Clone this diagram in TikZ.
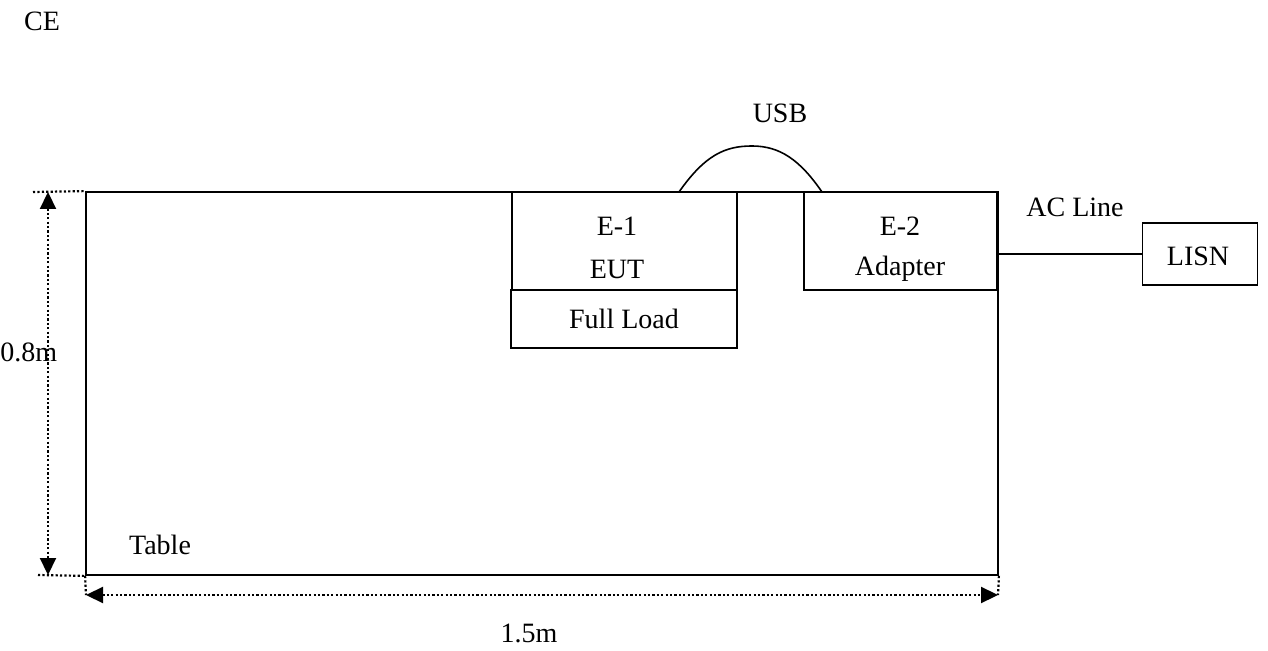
\documentclass[tikz,border=0pt]{standalone}
\usepackage{fontspec}
\setmainfont{Liberation Serif}
\usetikzlibrary{arrows.meta}
\begin{document}
\begin{tikzpicture}[x=0.5pt,y=-0.5pt,
  box/.style={draw,line width=0.9pt,inner sep=0pt},
  lbl/.style={inner sep=0pt,font=\fontsize{14}{16}\selectfont},
  dimline/.style={line width=1.1pt,dash pattern=on 1.1pt off 1.1pt},
  dimarrow/.style={dimline,{Triangle[length=8.5pt,width=8pt]}-{Triangle[length=8.5pt,width=8pt]}},
  wire/.style={line width=0.8pt}]
\useasboundingbox (0,0) rectangle (1268,651);
% table
\node[box,minimum width=456pt,minimum height=191.5pt] (table) at (542,383.5) {};
\node[lbl] (tablelbl) at (160,545) {Table};
% boxes
\node[box,minimum width=112.5pt,minimum height=49pt] (eut) at (624.5,241) {};
\node[lbl] (e1) at (617,226) {E-1};
\node[lbl] (eutlbl) at (617,269) {EUT};
\node[box,minimum width=113pt,minimum height=29pt] (load) at (624,319) {};
\node[lbl] (loadlbl) at (624,319) {Full Load};
\node[box,minimum width=96.5pt,minimum height=49pt] (adapter) at (900.5,241) {};
\node[lbl] (e2) at (900,226) {E-2};
\node[lbl] (adlbl) at (900,269) {Adapter};
\node[box,minimum width=57.5pt,minimum height=31pt] (lisn) at (1200,254) {};
\node[lbl] (lisnlbl) at (1198,256) {LISN};
% USB cable
\coordinate (usbA) at (679,192);
\coordinate (usbP) at (752,146);
\coordinate (usbB) at (822,192);
\draw[wire] (usbA) .. controls (705,155) and (725,146) .. (usbP) .. controls (780,146) and (800,160) .. (usbB);
\node[lbl] (usblbl) at (780,113) {USB};
% AC line
\draw[wire] (lisn.west) -- (lisn.west -| adapter.east);
\node[lbl] (aclbl) at (1075,207) {AC Line};
% title
\node[lbl] (ce) at (42,21) {CE};
% dimensions
\coordinate (vt0) at (33,192);
\coordinate (vb0) at (38,575);
\coordinate (vt) at (48,192);
\coordinate (vb) at (48,575);
\draw[dimline] (vt0) -- (table.north west);
\draw[dimline] (vb0) -- (table.south west);
\draw[dimarrow] (vt) -- (vb);
\node[lbl,anchor=west] (hlbl) at (0,352) {0.8m};
\coordinate (hl) at (86,595);
\coordinate (hr) at (998,595);
\draw[dimline] (table.south west) -- (hl);
\draw[dimline] (table.south east) -- (hr);
\draw[dimarrow] (hl) -- (hr);
\node[lbl] (wlbl) at (529,633) {1.5m};
\end{tikzpicture}
\end{document}
